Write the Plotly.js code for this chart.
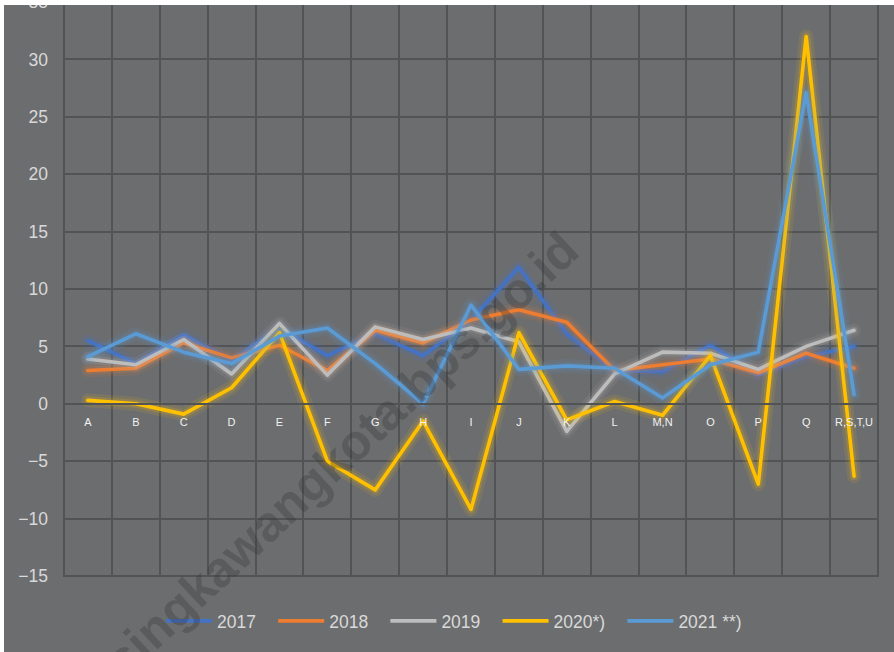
<!DOCTYPE html>
<html>
<head>
<meta charset="utf-8">
<script src="https://cdn.plot.ly/plotly-3.0.1.min.js"></script>
<style>
  html, body { margin: 0; padding: 0; background: #ffffff; }
  #chart { width: 894px; height: 652px; }
  .scatterlayer path.js-line { stroke-linejoin: round; stroke-linecap: round; }
</style>
</head>
<body>
<div id="chart"></div>
<script>
// ---- data ----
const categories = ['A','B','C','D','E','F','G','H','I','J','K','L','M,N','O','P','Q','R,S,T,U'];
const seriesNames = ['2017', '2018', '2019', '2020*)', '2021 **)'];
const y2017 = [5.5, 3.5, 6.0, 3.8, 6.6, 4.2, 6.1, 4.2, 7.3, 11.9, 6.1, 2.9, 2.8, 5.1, 2.5, 4.1, 5.0];
const y2018 = [2.9, 3.1, 5.3, 4.0, 5.1, 2.9, 6.4, 5.3, 7.3, 8.2, 7.1, 2.9, 3.4, 3.9, 2.7, 4.4, 3.1];
const y2019 = [3.9, 3.4, 5.6, 2.6, 7.0, 2.5, 6.7, 5.6, 6.6, 5.4, -2.4, 2.6, 4.5, 4.4, 3.0, 5.0, 6.4];
const y2020 = [0.3, 0.0, -0.9, 1.4, 6.2, -5.0, -7.5, -1.5, -9.2, 6.2, -1.4, 0.2, -1.0, 4.2, -7.0, 32.0, -6.3];
const y2021 = [4.1, 6.1, 4.5, 3.5, 5.9, 6.6, 3.5, 0.0, 8.6, 3.0, 3.3, 3.1, 0.5, 3.4, 4.5, 27.1, 0.8];
const yTickVals = [-15, -10, -5, 0, 5, 10, 15, 20, 25, 30, 35];
const watermarkText = 'singkawangkota.bps.go.id';

const allSeries = [y2017, y2018, y2019, y2020, y2021];
const colors = ['#4472C4', '#ED7D31', '#BDBDBD', '#FFC000', '#5B9BD5'];
// spacing after each legend label (Excel spreads the entries further apart)
const legendPad = '\u2002\u2009';

// ---- layout constants ----
const FIG_W = 894, FIG_H = 652;
const M = { l: 64, r: 16, t: 2, b: 76 };
const PW = FIG_W - M.l - M.r, PH = FIG_H - M.t - M.b;
const px2x = p => (p - M.l) / PW;
const py2y = p => 1 - (p - M.t) / PH;

const traces = [];
allSeries.forEach((ys, i) => {
  traces.push({
    x: categories, y: ys, type: 'scatter', mode: 'lines',
    line: { color: colors[i], width: 14 }, opacity: 0.10,
    showlegend: false, hoverinfo: 'skip'
  });
  traces.push({
    x: categories, y: ys, type: 'scatter', mode: 'lines',
    line: { color: colors[i], width: 8 }, opacity: 0.18,
    showlegend: false, hoverinfo: 'skip'
  });
  traces.push({
    x: categories, y: ys, type: 'scatter', mode: 'lines',
    name: seriesNames[i] + legendPad,
    line: { color: colors[i], width: 3.6 }
  });
});

const gridColor = '#525355';
const bg = '#6c6d6f';

const layout = {
  width: FIG_W, height: FIG_H,
  margin: { l: M.l, r: M.r, t: M.t, b: M.b, pad: 0, autoexpand: false },
  paper_bgcolor: bg,
  plot_bgcolor: bg,
  showlegend: true,
  font: { family: 'Liberation Sans, Arial, sans-serif', color: '#d9d9d9' },
  xaxis: {
    type: 'category',
    range: [-0.5, categories.length - 0.5],
    tickson: 'boundaries',
    showgrid: true, gridcolor: gridColor, gridwidth: 2,
    ticks: '',
    anchor: 'free', position: 0.3,
    showline: true, linecolor: gridColor, linewidth: 2,
    zeroline: false,
    tickfont: { size: 11, color: '#f2f2f2' },
    ticklabelstandoff: 8,
    fixedrange: true
  },
  yaxis: {
    range: [-15, 35],
    tickvals: yTickVals,
    showgrid: true, gridcolor: gridColor, gridwidth: 2,
    zeroline: false,
    ticks: '',
    showline: false,
    tickfont: { size: 17.5, color: '#d9d9d9' },
    ticklabelstandoff: 15,
    ticklabeloverflow: 'allow',
    fixedrange: true
  },
  legend: {
    orientation: 'h',
    x: px2x(460), xanchor: 'center',
    y: py2y(621), yanchor: 'middle',
    bgcolor: 'rgba(0,0,0,0)',
    font: { size: 17.5, color: '#d9d9d9' },
    itemwidth: 46,
    traceorder: 'normal'
  },
  annotations: [{
    text: watermarkText,
    xref: 'paper', yref: 'paper',
    x: px2x(341), y: py2y(455),
    xanchor: 'center', yanchor: 'middle',
    showarrow: false,
    textangle: -43,
    font: { size: 50, color: 'rgba(50,50,52,0.30)', family: 'Liberation Sans, Arial, sans-serif', weight: 'bold' }
  }],
  shapes: [
    { type: 'rect', xref: 'paper', yref: 'paper', layer: 'below',
      x0: 0, x1: 1, y0: 0, y1: 1,
      fillcolor: 'rgba(0,0,0,0)', line: { color: gridColor, width: 2 } },
    { type: 'rect', xref: 'paper', yref: 'paper', layer: 'above',
      x0: px2x(-20), x1: px2x(4), y0: py2y(FIG_H + 20), y1: py2y(-20),
      fillcolor: '#ffffff', line: { width: 0 } },
    { type: 'rect', xref: 'paper', yref: 'paper', layer: 'above',
      x0: px2x(-20), x1: px2x(FIG_W + 20), y0: py2y(5), y1: py2y(-20),
      fillcolor: '#ffffff', line: { width: 0 } }
  ]
};

Plotly.newPlot('chart', traces, layout, { displayModeBar: false, staticPlot: true });
</script>
</body>
</html>
